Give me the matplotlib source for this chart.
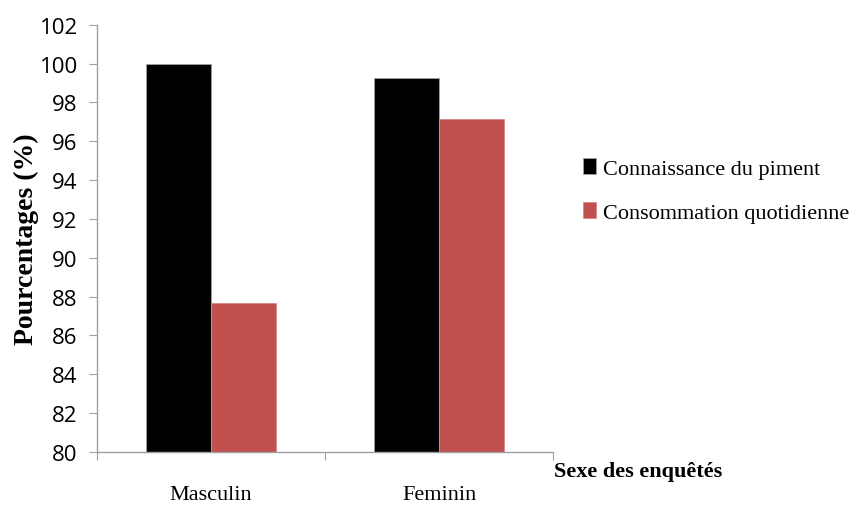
import matplotlib.pyplot as plt
import numpy as np

categories = ["Masculin", "Feminin"]
connaissance = [100.0, 99.25]
consommation = [87.65, 97.15]
series_names = ["Connaissance du piment", "Consommation quotidienne"]
yticks = list(range(80, 103, 2))

serif = ["Liberation Serif", "DejaVu Serif"]
sans = ["Open Sans", "DejaVu Sans"]

fig = plt.figure(figsize=(8.6, 5.06), dpi=100)
ax = fig.add_axes([0.113, 0.105, 0.530, 0.844])

x = np.arange(len(categories))
w = 0.285
b1 = ax.bar(x - w / 2, [v - 80 for v in connaissance], w, bottom=80,
            color="black", edgecolor="#a0a0a0", linewidth=0.6)
b2 = ax.bar(x + w / 2, [v - 80 for v in consommation], w, bottom=80,
            color="#c0504d", edgecolor="#d88a88", linewidth=0.6)

ax.set_xlim(-0.5, 1.5)
ax.set_ylim(80, 102)
ax.set_yticks(yticks)
ax.set_yticklabels([str(t) for t in yticks], fontfamily=sans, fontsize=16)

# category boundaries carry the ticks, labels sit at centres
ax.set_xticks([-0.5, 0.5, 1.5])
ax.set_xticklabels([])
ax.set_xticks(x, minor=True)
ax.set_xticklabels(categories, minor=True, fontfamily=serif, fontsize=16)
ax.tick_params(axis="x", which="minor", length=0, pad=24)
ax.tick_params(axis="x", which="major", length=6, color="#a0a0a0")
ax.tick_params(axis="y", length=6, color="#a0a0a0", pad=8)

for s in ("top", "right"):
    ax.spines[s].set_visible(False)
for s in ("left", "bottom"):
    ax.spines[s].set_color("#a0a0a0")
    ax.spines[s].set_linewidth(1.0)

ax.set_ylabel("Pourcentages (%)", fontfamily=serif, fontweight="bold",
              fontsize=20, labelpad=0)
fig.text(0.644, 0.068, "Sexe des enquêtés", fontfamily=serif,
         fontweight="bold", fontsize=16, ha="left", va="center")

fig.legend([b1, b2], series_names, loc="upper left",
           bbox_to_anchor=(0.655, 0.725), frameon=False,
           prop={"family": serif, "size": 16}, handlelength=0.55,
           handleheight=0.7, handletextpad=0.35, labelspacing=1.05)

fig.savefig("out.png", dpi=100)
